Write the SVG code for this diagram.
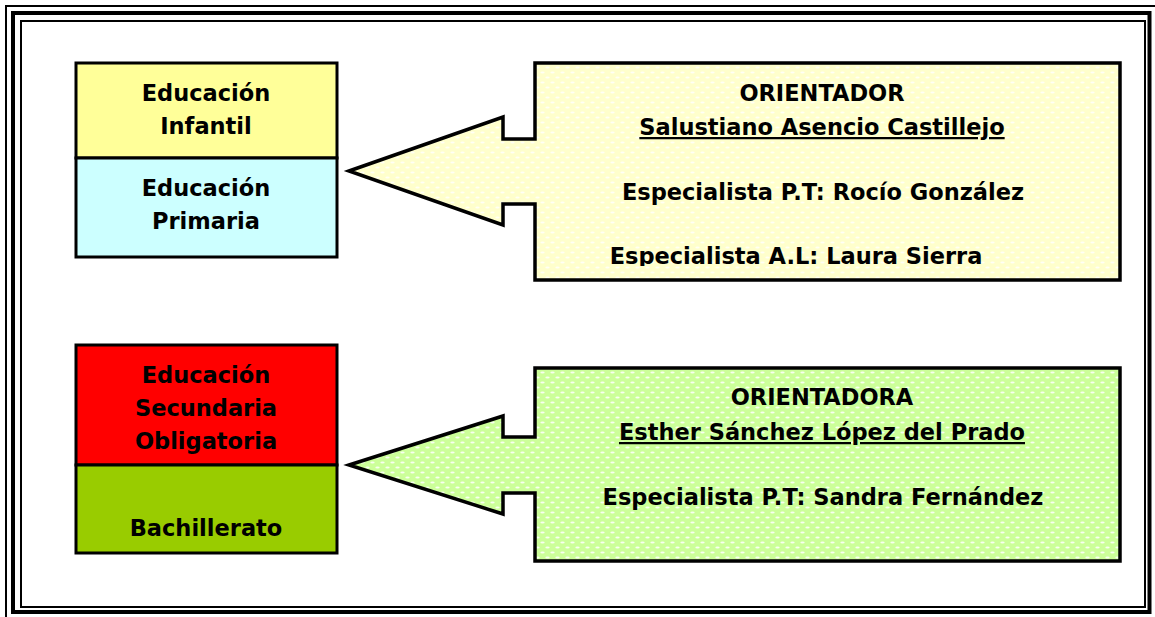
<svg xmlns="http://www.w3.org/2000/svg" width="1155" height="617" viewBox="0 0 1155 617">
<style>
  .t { font-family: "DejaVu Sans", "Liberation Sans", sans-serif; font-weight: bold; font-size: 22.5px; fill: #000; text-anchor: middle; }
  .box { stroke: #000; stroke-width: 3; }
  .call { stroke: #000; stroke-width: 3.5; stroke-linejoin: miter; }
  .frame { fill: none; stroke: #000; }
</style>
<defs>
  <pattern id="dotsY" width="10" height="10" patternUnits="userSpaceOnUse">
    <rect width="10" height="10" fill="#FFFFCC"/>
    <ellipse cx="2.5" cy="2.5" rx="2.2" ry="1.1" fill="#FFFFFF" opacity="0.8"/>
    <ellipse cx="7.5" cy="7.5" rx="2.2" ry="1.1" fill="#FFFFFF" opacity="0.8"/>
  </pattern>
  <pattern id="dotsG" width="10" height="10" patternUnits="userSpaceOnUse">
    <rect width="10" height="10" fill="#CCFF99"/>
    <ellipse cx="2.5" cy="2.5" rx="2.2" ry="1.1" fill="#FFFFFF" opacity="0.85"/>
    <ellipse cx="7.5" cy="7.5" rx="2.2" ry="1.1" fill="#FFFFFF" opacity="0.85"/>
  </pattern>
  <clipPath id="clipTop">
    <rect x="536" y="64" width="583" height="202"/>
  </clipPath>
</defs>
<rect width="1155" height="617" fill="#FFFFFF"/>
<g id="frame">
  <rect class="frame" x="6" y="6" width="1152" height="614" stroke-width="2"/>
  <rect class="frame" x="13" y="13" width="1136.5" height="599" stroke-width="4"/>
  <rect class="frame" x="21" y="21" width="1124" height="586" stroke-width="2"/>
</g>
<g id="infantil">
  <rect class="box" x="76" y="63" width="261" height="95" fill="#FFFF99"/>
  <text class="t" x="206" y="101">Educación</text>
  <text class="t" x="206" y="134">Infantil</text>
</g>
<g id="primaria">
  <rect class="box" x="76" y="158" width="261" height="99" fill="#CCFFFF"/>
  <text class="t" x="206" y="196">Educación</text>
  <text class="t" x="206" y="229">Primaria</text>
</g>
<g id="eso">
  <rect class="box" x="76" y="345" width="261" height="120" fill="#FF0000"/>
  <text class="t" x="206" y="383">Educación</text>
  <text class="t" x="206" y="416">Secundaria</text>
  <text class="t" x="206" y="449">Obligatoria</text>
</g>
<g id="bachillerato">
  <rect class="box" x="76" y="465" width="261" height="88" fill="#99CC00"/>
  <text class="t" x="206" y="536">Bachillerato</text>
</g>
<g id="connectors">
  <path id="callout-top" class="call" fill="url(#dotsY)" d="M 349 171 L 503 117 L 503 139 L 535 139 L 535 63 L 1120 63 L 1120 280 L 535 280 L 535 204 L 503 204 L 503 225 Z"/>
  <path id="callout-bottom" class="call" fill="url(#dotsG)" d="M 349 465 L 503 416 L 503 437 L 535 437 L 535 368 L 1120 368 L 1120 561 L 535 561 L 535 493 L 503 493 L 503 514 Z"/>
</g>
<g id="orientador-text" clip-path="url(#clipTop)">
  <text class="t" x="822" y="101">ORIENTADOR</text>
  <text class="t" x="822" y="135" text-decoration="underline">Salustiano Asencio Castillejo</text>
  <text class="t" x="823" y="200">Especialista P.T: Rocío González</text>
  <text class="t" x="796" y="264">Especialista A.L: Laura Sierra</text>
</g>
<g id="orientadora-text">
  <text class="t" x="822" y="405">ORIENTADORA</text>
  <text class="t" x="822" y="440" text-decoration="underline">Esther Sánchez López del Prado</text>
  <text class="t" x="823" y="505">Especialista P.T: Sandra Fernández</text>
</g>
</svg>
